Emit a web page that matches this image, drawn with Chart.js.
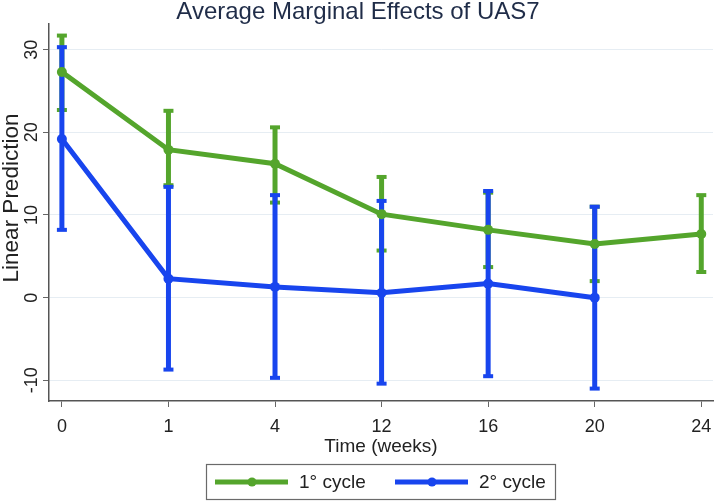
<!DOCTYPE html>
<html>
<head>
<meta charset="utf-8">
<script src="https://cdn.jsdelivr.net/npm/chart.js@4"></script>
<style>
  html, body { margin: 0; padding: 0; background: #fff; }
  #wrap { width: 718px; height: 501px; }
</style>
</head>
<body>
<div id="wrap"><canvas id="chart"></canvas></div>
<script>
const timeLabels = ['0', '1', '4', '12', '16', '20', '24'];
const yTicks = [-10, 0, 10, 20, 30];

const cycle1 = [27.3, 17.9, 16.2, 10.1, 8.2, 6.5, 7.7];
const cycle1Low = [22.7, 13.6, 11.5, 5.7, 3.7, 2.0, 3.1];
const cycle1High = [31.7, 22.6, 20.6, 14.6, 12.7, 11.0, 12.4];

const cycle2 = [19.2, 2.3, 1.3, 0.6, 1.7, 0.0];
const cycle2Low = [8.2, -8.7, -9.7, -10.4, -9.5, -11.0];
const cycle2High = [30.3, 13.4, 12.4, 11.7, 12.9, 11.0];

const green = '#54a52c';
const blue = '#1845ee';
const fontFamily = '"Liberation Sans", Arial, sans-serif';

const errorBars = [
  { low: cycle1Low, high: cycle1High, color: green },
  { low: cycle2Low, high: cycle2High, color: blue },
];

// vertical CI bars with caps, under the lines
const errorBarPlugin = {
  id: 'errorBars',
  beforeDatasetsDraw(chart) {
    const ctx = chart.ctx;
    const xs = chart.scales.x;
    const ys = chart.scales.y;
    ctx.save();
    errorBars.forEach(bar => {
      ctx.strokeStyle = bar.color;
      bar.low.forEach((lo, i) => {
        const x = xs.getPixelForValue(i);
        const yLo = ys.getPixelForValue(lo);
        const yHi = ys.getPixelForValue(bar.high[i]);
        ctx.lineWidth = 5;
        ctx.beginPath();
        ctx.moveTo(x, yLo);
        ctx.lineTo(x, yHi);
        ctx.stroke();
        ctx.lineWidth = 4;
        [yLo, yHi].forEach(y => {
          ctx.beginPath();
          ctx.moveTo(x - 5, y);
          ctx.lineTo(x + 5, y);
          ctx.stroke();
        });
      });
    });
    ctx.restore();
  }
};

// rotated y tick labels, y title and the boxed legend
const decorPlugin = {
  id: 'decor',
  afterDraw(chart) {
    const ctx = chart.ctx;
    const ys = chart.scales.y;
    ctx.save();
    ctx.fillStyle = '#222';
    ctx.font = '18px ' + fontFamily;
    ctx.textAlign = 'center';
    ctx.textBaseline = 'middle';
    yTicks.forEach(v => {
      ctx.save();
      ctx.translate(32, ys.getPixelForValue(v));
      ctx.rotate(-Math.PI / 2);
      ctx.fillText(String(v), 0, 0);
      ctx.restore();
    });

    ctx.save();
    ctx.font = '22.5px ' + fontFamily;
    ctx.translate(12, 198);
    ctx.rotate(-Math.PI / 2);
    ctx.fillText('Linear Prediction', 0, 0);
    ctx.restore();

    // legend
    ctx.strokeStyle = '#6a6a6a';
    ctx.lineWidth = 1.2;
    ctx.strokeRect(206.5, 464.5, 349, 35);
    const items = [
      { x: 215, ds: chart.data.datasets[0] },
      { x: 395, ds: chart.data.datasets[1] },
    ];
    const ly = 482;
    items.forEach(it => {
      ctx.strokeStyle = it.ds.borderColor;
      ctx.fillStyle = it.ds.borderColor;
      ctx.lineWidth = 5;
      ctx.beginPath();
      ctx.moveTo(it.x, ly);
      ctx.lineTo(it.x + 73, ly);
      ctx.stroke();
      ctx.beginPath();
      ctx.arc(it.x + 37, ly, 4.5, 0, Math.PI * 2);
      ctx.fill();
      ctx.fillStyle = '#222';
      ctx.font = '19px ' + fontFamily;
      ctx.textAlign = 'left';
      ctx.fillText(it.ds.label, it.x + 84, ly + 1);
    });
    ctx.restore();
  }
};

new Chart(document.getElementById('chart'), {
  type: 'line',
  data: {
    datasets: [
      {
        label: '1° cycle',
        data: cycle1.map((v, i) => ({ x: i, y: v })),
        borderColor: green,
        backgroundColor: green,
        borderWidth: 5,
        pointRadius: 5,
        pointBorderWidth: 0,
        tension: 0,
      },
      {
        label: '2° cycle',
        data: cycle2.map((v, i) => ({ x: i, y: v })),
        borderColor: blue,
        backgroundColor: blue,
        borderWidth: 5,
        pointRadius: 5,
        pointBorderWidth: 0,
        tension: 0,
      },
    ],
  },
  options: {
    responsive: true,
    maintainAspectRatio: false,
    animation: false,
    devicePixelRatio: 1,
    layout: { padding: { left: 0, right: 2, top: 0, bottom: 45 } },
    plugins: {
      legend: { display: false },
      tooltip: { enabled: false },
      title: {
        display: true,
        text: 'Average Marginal Effects of UAS7',
        color: '#1f2c48',
        font: { family: fontFamily, size: 24, weight: 'normal', lineHeight: 1 },
        padding: 0,
      },
    },
    scales: {
      x: {
        type: 'linear',
        min: -0.121,
        max: 6.11,
        afterFit: s => { s.height = 55; s.paddingLeft = 0; s.paddingRight = 0; },
        afterBuildTicks: s => { s.ticks = timeLabels.map((t, i) => ({ value: i })); },
        ticks: {
          callback: v => timeLabels[v],
          color: '#222',
          font: { family: fontFamily, size: 18 },
          padding: 9,
          maxRotation: 0,
          autoSkip: false,
        },
        grid: { drawOnChartArea: false, tickLength: 6, tickColor: '#666' },
        border: { color: '#555', width: 1.5 },
        title: {
          display: true,
          text: 'Time (weeks)',
          color: '#222',
          font: { family: fontFamily, size: 19, lineHeight: 1 },
          padding: 0,
        },
      },
      y: {
        min: -12.5,
        max: 33.1,
        afterFit: s => { s.width = 49; },
        afterBuildTicks: s => { s.ticks = yTicks.map(v => ({ value: v })); },
        ticks: { display: false },
        grid: { color: '#e6edf3', lineWidth: 1, tickLength: 6, tickColor: '#666' },
        border: { color: '#555', width: 1.5 },
      },
    },
  },
  plugins: [errorBarPlugin, decorPlugin],
});
</script>
</body>
</html>
